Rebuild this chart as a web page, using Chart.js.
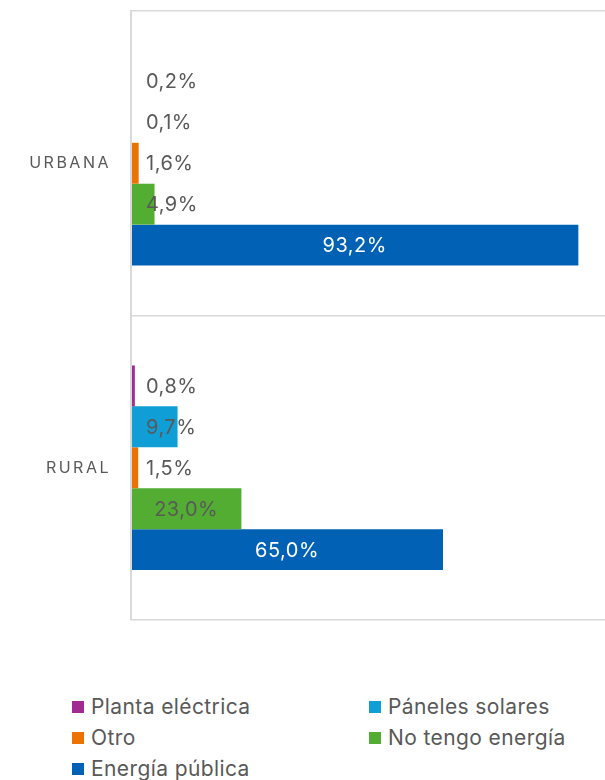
<!DOCTYPE html>
<html lang="es">
<head>
<meta charset="utf-8">
<title>Fuente de energía por zona</title>
<script src="https://cdn.jsdelivr.net/npm/chart.js@4/dist/chart.umd.min.js"></script>
<style>
    html, body { margin: 0; padding: 0; background: #fff; width: 605px; height: 780px; overflow: hidden; }
    #chartBox { position: absolute; left: 0; top: 0; width: 611px; height: 640px; }
    #legend { position: absolute; left: 72px; top: 694px; display: grid; grid-template-columns: 297px 240px; row-gap: 6px;
              font-family: Inter, "Open Sans", sans-serif; font-size: 21px; letter-spacing: 0.4px; color: #595959; }
    #legend .item { display: flex; align-items: center; height: 25px; white-space: nowrap; }
    #legend .box { width: 12px; height: 12px; margin-right: 7px; flex: none; }
</style>
</head>
<body>
<div id="chartBox"><canvas id="energyChart"></canvas></div>
<div id="legend"></div>
<script>
// ====== Data ======
const ZONES = ["URBANA", "RURAL"];
const SERIES_LABELS = ["Planta eléctrica", "Páneles solares", "Otro", "No tengo energía", "Energía pública"];
const PLANTA = [0.2, 0.8];
const PANELES = [0.1, 9.7];
const OTRO = [1.6, 1.5];
const SIN_ENERGIA = [4.9, 23.0];
const PUBLICA = [93.2, 65.0];
const SERIES_COLORS = [
    "#A02B93", // Planta eléctrica (purple)
    "#109ED6", // Páneles solares (light blue)
    "#EE7202", // Otro (orange)
    "#52AD32", // No tengo energía (green)
    "#0061B5", // Energía pública (blue)
];
const LABEL_COLORS = ["#595959", "#595959", "#595959", "#595959", "#ffffff"];

const TEXT_GRAY = "#595959";
const LINE_GRAY = "#D9D9D9";

// ---- Format percent with comma ----
function fmt(v) {
    return v.toFixed(1).replace('.', ',') + '%';
}

// ---- Value labels on bars ----
const barLabels = {
    id: 'barLabels',
    afterDatasetsDraw(chart) {
        const ctx = chart.ctx;
        ctx.save();
        ctx.letterSpacing = '0.5px';
        ctx.font = '20px Inter, "Open Sans", sans-serif';
        ctx.textBaseline = 'middle';
        chart.data.datasets.forEach((ds, i) => {
            const meta = chart.getDatasetMeta(i);
            meta.data.forEach((bar, j) => {
                const txt = fmt(ds.data[j]);
                const w = ctx.measureText(txt).width;
                const len = bar.x - bar.base;
                if (len > w + 20) {
                    ctx.textAlign = 'center';
                    ctx.fillStyle = LABEL_COLORS[i];
                    ctx.fillText(txt, bar.base + len / 2, bar.y + 1);
                } else {
                    ctx.textAlign = 'left';
                    ctx.fillStyle = TEXT_GRAY;
                    ctx.fillText(txt, bar.base + 15, bar.y + 1);
                }
            });
        });
        ctx.restore();
    }
};

// ---- Spaced category labels (bar labels set their own spacing) ----
const spacedTicks = {
    id: 'spacedTicks',
    beforeDraw(chart) { chart.ctx.letterSpacing = '2.5px'; }
};

const datasets = [PLANTA, PANELES, OTRO, SIN_ENERGIA, PUBLICA].map((vals, i) => ({
    label: SERIES_LABELS[i],
    data: vals,
    backgroundColor: SERIES_COLORS[i],
    borderWidth: 0,
    barPercentage: 1,
    categoryPercentage: 0.672
}));

const chart = new Chart(document.getElementById('energyChart'), {
    type: 'bar',
    data: { labels: ZONES, datasets },
    options: {
        indexAxis: 'y',
        responsive: true,
        maintainAspectRatio: false,
        animation: false,
        layout: { padding: { top: 11, bottom: 20, left: 0, right: 0 } },
        plugins: {
            legend: { display: false },
            tooltip: { enabled: false }
        },
        scales: {
            x: {
                display: false,
                min: 0,
                max: 100
            },
            y: {
                afterFit: scale => {
                    scale.width = 131;
                    scale.paddingTop = 0;
                    scale.paddingBottom = 0;
                },
                grid: { color: LINE_GRAY, lineWidth: 1.5, drawTicks: false, offset: true },
                border: { color: LINE_GRAY, width: 2, z: 1 },
                ticks: {
                    color: TEXT_GRAY,
                    padding: 20,
                    font: { family: 'Inter, "Open Sans", sans-serif', size: 16 }
                }
            }
        }
    },
    plugins: [barLabels, spacedTicks]
});

// ---- HTML legend ----
const legendEl = document.getElementById('legend');
chart.data.datasets.forEach(ds => {
    const item = document.createElement('div');
    item.className = 'item';
    const box = document.createElement('span');
    box.className = 'box';
    box.style.background = ds.backgroundColor;
    const txt = document.createElement('span');
    txt.textContent = ds.label;
    item.appendChild(box);
    item.appendChild(txt);
    legendEl.appendChild(item);
});
</script>
</body>
</html>
